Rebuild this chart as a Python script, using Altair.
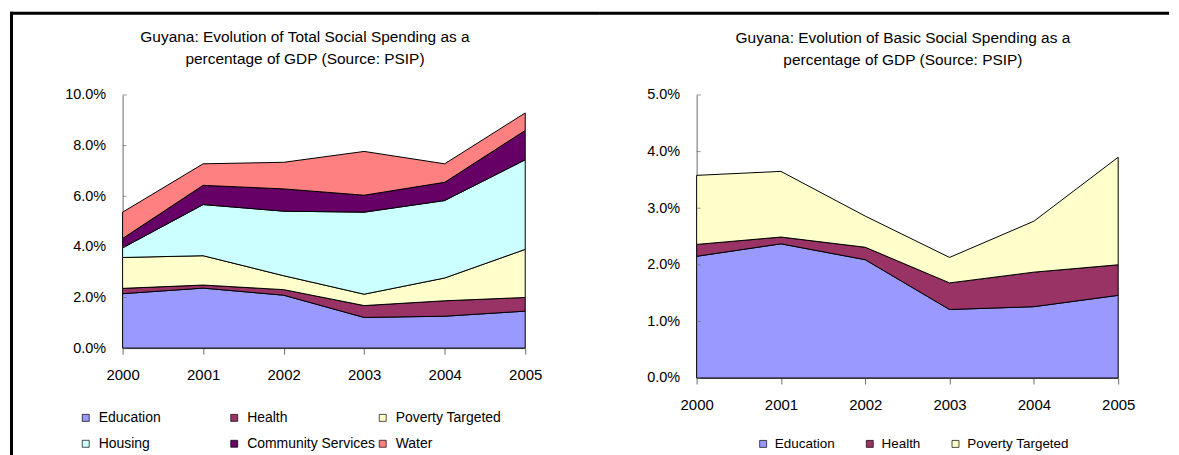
import altair as alt
import pandas as pd

# ---- data (percent of GDP) ----
years = [2000, 2001, 2002, 2003, 2004, 2005]
education = [2.15, 2.37, 2.09, 1.21, 1.26, 1.46]
health = [0.21, 0.12, 0.22, 0.47, 0.61, 0.54]
poverty = [1.22, 1.16, 0.55, 0.45, 0.90, 1.90]
housing = [0.38, 2.02, 2.55, 3.24, 3.06, 3.54]
community = [0.37, 0.76, 0.88, 0.67, 0.72, 1.16]
water = [1.04, 0.85, 1.05, 1.73, 0.73, 0.69]

total_categories = ["Education", "Health", "Poverty Targeted", "Housing",
                    "Community Services", "Water"]
basic_categories = ["Education", "Health", "Poverty Targeted"]
colors = ["#9999FF", "#993366", "#FFFFCC", "#CCFFFF", "#660066", "#FF8080"]
total_ticks = [0.0, 0.02, 0.04, 0.06, 0.08, 0.10]
basic_ticks = [0.0, 0.01, 0.02, 0.03, 0.04, 0.05]

series = {
    "Education": education,
    "Health": health,
    "Poverty Targeted": poverty,
    "Housing": housing,
    "Community Services": community,
    "Water": water,
}

FONT = "Liberation Sans"
AXIS_GRAY = "#6a6a6a"


def long_df(cats):
    rows = []
    for i, c in enumerate(cats):
        for yr, v in zip(years, series[c]):
            rows.append({"year": yr, "category": c, "order": i, "value": v / 100.0})
    return pd.DataFrame(rows)


def y_axis(ticks):
    return alt.Axis(values=ticks, format=".1%", title=None, grid=False, ticks=False,
                    labelPadding=17, domainColor=AXIS_GRAY, labelFontSize=14.5,
                    labelFont=FONT, labelColor="black")


def panel(cats, ticks, width, height, title_lines, title_dx, legend, top_rule_x, top_rule_x2, left_border):
    df = long_df(cats)
    yscale = alt.Scale(domain=[0, ticks[-1]], nice=False, zero=True)
    x = alt.X(
        "year:Q",
        scale=alt.Scale(domain=[years[0], years[-1]], nice=False, zero=False),
        axis=alt.Axis(values=years, format="d", title=None, grid=False, tickSize=6,
                      tickColor=AXIS_GRAY, domainColor=AXIS_GRAY, labelFontSize=15,
                      labelPadding=14, labelFont=FONT, labelColor="black",
                      labelFlush=False),
    )
    areas = alt.Chart(df).mark_area(stroke="black", strokeWidth=1, opacity=1, fillOpacity=1).encode(
        x=x,
        y=alt.Y("value:Q", stack="zero", scale=yscale, axis=y_axis(ticks)),
        color=alt.Color("category:N", scale=alt.Scale(domain=cats, range=colors[:len(cats)]),
                        legend=legend),
        order=alt.Order("order:Q", sort="ascending"),
    )
    tick_df = pd.DataFrame({"t": ticks})
    inner_ticks = alt.Chart(tick_df).mark_tick(orient="horizontal", size=4, thickness=1,
                                               color=AXIS_GRAY).encode(
        y=alt.Y("t:Q", scale=yscale, axis=y_axis(ticks)),
        x=alt.value(2),
    )
    one = pd.DataFrame({"k": [0]})
    layers = [areas, inner_ticks]
    top = alt.Chart(one).mark_rule(color="black", strokeWidth=3, strokeCap="butt").encode(
        x=alt.value(top_rule_x), x2=alt.value(top_rule_x2), y=alt.value(-82))
    layers.append(top)
    if left_border:
        lb = alt.Chart(one).mark_rule(color="black", strokeWidth=3, strokeCap="butt").encode(
            x=alt.value(-111.5), y=alt.value(-83.5), y2=alt.value(362))
        layers.append(lb)
    return alt.layer(*layers).properties(
        width=width,
        height=height,
        title=alt.TitleParams(text=title_lines, fontSize=15.5, font=FONT, fontWeight="normal",
                              anchor="middle", frame="group", dx=title_dx, offset=0, dy=57,
                              lineHeight=22, color="black"),
    )


left_legend = alt.Legend(orient="none", legendX=-44, legendY=317, columns=3, direction="horizontal",
                         gridAlign="all", columnPadding=0, rowPadding=12, symbolType="square",
                         symbolSize=49, symbolStrokeColor="black", symbolStrokeWidth=0.7,
                         labelFontSize=14, labelFont=FONT, labelOffset=6, title=None, padding=0,
                         labelColor="black")
right_legend = alt.Legend(orient="none", legendX=60, legendY=343, direction="horizontal",
                          columns=3, gridAlign="each", columnPadding=28, symbolType="square",
                          symbolSize=49, symbolStrokeColor="black", symbolStrokeWidth=0.7,
                          labelFontSize=13.5, labelFont=FONT, labelOffset=5, title=None,
                          padding=0, labelColor="black")

left = panel(total_categories, total_ticks, 404, 254,
             ["Guyana: Evolution of Total Social Spending as a", "percentage of GDP (Source: PSIP)"],
             -19, left_legend, -113, 479, True)
right = panel(basic_categories, basic_ticks, 423, 284,
              ["Guyana: Evolution of Basic Social Spending as a", "percentage of GDP (Source: PSIP)"],
              -4.5, right_legend, -97, 474, False)

chart = alt.hconcat(left, right, spacing=172, bounds="flush").properties(
    padding={"left": 0, "top": 1.5, "right": 0, "bottom": 0},
    background="white",
).configure_view(stroke=None).resolve_scale(color="independent", y="independent", x="independent")

chart.save("out.html", embed_options={"renderer": "svg", "actions": False})
